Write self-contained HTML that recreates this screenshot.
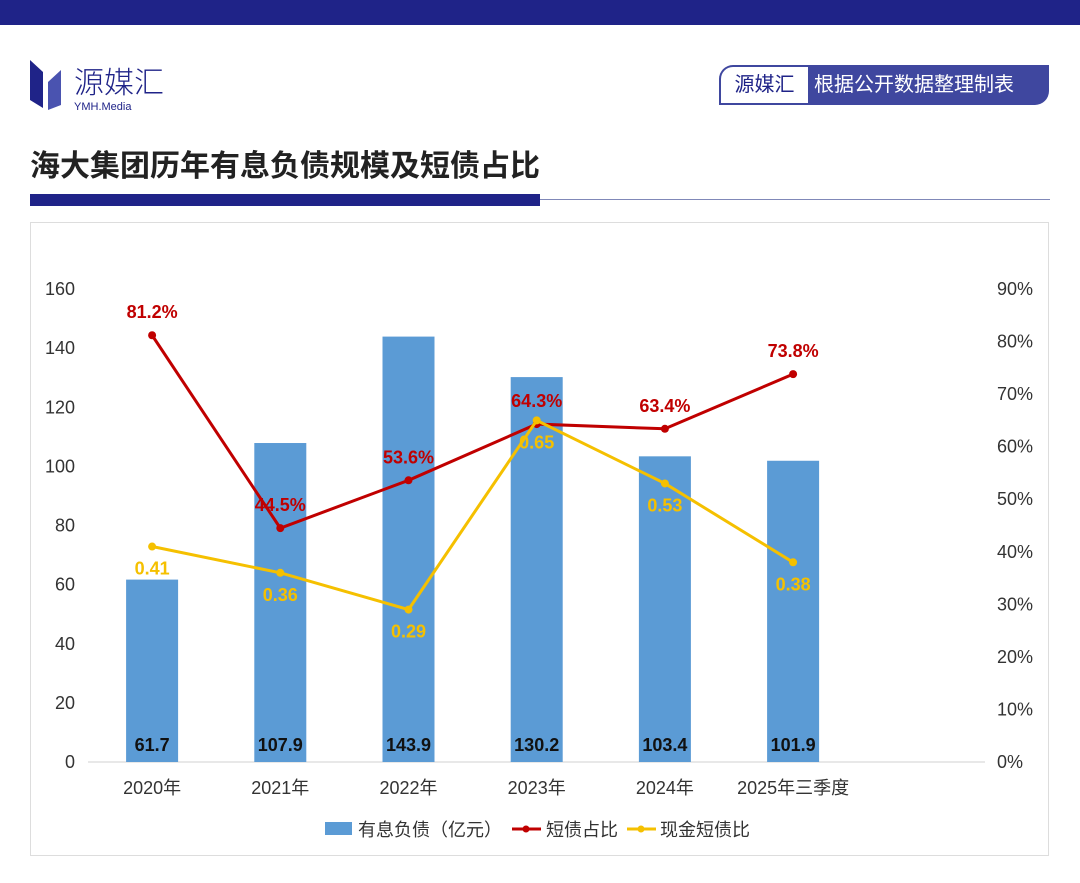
<!DOCTYPE html>
<html><head><meta charset="utf-8">
<style>
body{margin:0;width:1080px;height:883px;background:#fff;font-family:"Liberation Sans","Noto Sans CJK SC",sans-serif;overflow:hidden;position:relative}
.abs{position:absolute}
</style></head>
<body>
<div class="abs" style="left:0;top:0;width:1080px;height:25px;background:#1f2388"></div>
<svg class="abs" style="left:28px;top:60px" width="150" height="55">
<polygon points="2,0 15,12 15,48 2,40" fill="#1f2388"/>
<polygon points="33,10 20,22 20,50 33,45" fill="#4a53b0"/>
<text x="46" y="33" font-size="30" fill="#1f2388" font-family="Noto Sans CJK SC,sans-serif" font-weight="300">源媒汇</text>
<text x="46" y="50" font-size="11" fill="#1f2388" font-family="Liberation Sans,sans-serif">YMH.Media</text>
</svg>
<div class="abs" style="left:719px;top:65px;width:330px;height:40px;background:#3f479f;border-radius:14px 0 14px 0"></div>
<div class="abs" style="left:721px;top:67px;width:87px;height:36px;background:#fff;border-radius:12px 0 0 0;font-size:20px;color:#1f2388;line-height:36px;text-align:center">源媒汇</div>
<div class="abs" style="left:814px;top:67px;font-size:20px;color:#fff;line-height:36px">根据公开数据整理制表</div>
<div class="abs" style="left:30px;top:141px;font-size:30px;font-weight:bold;color:#222;font-family:'Noto Sans CJK SC',sans-serif">海大集团历年有息负债规模及短债占比</div>
<div class="abs" style="left:30px;top:194px;width:510px;height:12px;background:#1f2388"></div>
<div class="abs" style="left:540px;top:199px;width:510px;height:1px;background:#8088b8"></div>
<div class="abs" style="left:30px;top:222px;width:1019px;height:634px;border:1px solid #ddd;box-sizing:border-box"></div>
<svg id="chart" class="abs" style="left:0;top:0" width="1080" height="883"></svg>
<script>
const categories=["2020年","2021年","2022年","2023年","2024年","2025年三季度"];
const debt=[61.7,107.9,143.9,130.2,103.4,101.9];
const shortShare=[81.2,44.5,53.6,64.3,63.4,73.8];
const cashRatio=[0.41,0.36,0.29,0.65,0.53,0.38];
const leftTicks=[0,20,40,60,80,100,120,140,160];
const rightTicks=[0,10,20,30,40,50,60,70,80,90];
const svg=document.getElementById('chart');
const NS="http://www.w3.org/2000/svg";
const x0=88,slot=128.2,yBase=762,yTop=289;
const yL=v=>yBase-(v/160)*(yBase-yTop);
const yR=p=>yBase-(p/90)*(yBase-yTop);
const xc=i=>x0+slot*(i+0.5);
function mk(t,a,txt){const e=document.createElementNS(NS,t);for(const k in a)e.setAttribute(k,a[k]);if(txt!==undefined)e.textContent=txt;svg.appendChild(e);return e;}
const F='Liberation Sans, Noto Sans CJK SC, sans-serif';
let e=mk('line',{x1:x0,x2:985,y1:yBase,y2:yBase,stroke:'#d0d0d0','stroke-width':1});


leftTicks.forEach(v=>{const t=mk('text',{x:75,y:yL(v)+6,'text-anchor':'end','font-size':18,fill:'#333','font-family':F},v);

});
rightTicks.forEach(v=>{const t=mk('text',{x:997,y:yR(v)+6,'font-size':18,fill:'#333','font-family':F},v+'%');

});
categories.forEach((c,i)=>{const t=mk('text',{x:xc(i),y:794,'text-anchor':'middle','font-size':18,fill:'#333','font-family':F},c);

});
debt.forEach((v,i)=>{const b=mk('rect',{x:xc(i)-26,y:yL(v),width:52,height:yBase-yL(v),fill:'#5b9bd5'});


const t=mk('text',{x:xc(i),y:751,'text-anchor':'middle','font-size':18,'font-weight':'bold',fill:'#111','font-family':F},v.toFixed(1));

});
function series(vals,yf,color,name,fmt,dy){
 const l=mk('polyline',{points:vals.map((v,i)=>xc(i)+','+yf(v)).join(' '),fill:'none',stroke:color,'stroke-width':3});
 
 
 vals.forEach((v,i)=>{const c=mk('circle',{cx:xc(i),cy:yf(v),r:4,fill:color});
 
 
 const t=mk('text',{x:xc(i),y:yf(v)+dy,'text-anchor':'middle','font-size':18,'font-weight':'bold',fill:color,'font-family':F},fmt(v));
 
 });
}
series(shortShare,yR,'#c00000','short-share',v=>v.toFixed(1)+'%',-17);
series(cashRatio,v=>yR(v*100),'#f5c000','cash-ratio',v=>v.toFixed(2),28);
e=mk('rect',{x:325,y:822,width:27,height:13,fill:'#5b9bd5'});


e=mk('text',{x:358,y:836,'font-size':18,fill:'#333','font-family':F},'有息负债（亿元）');


e=mk('line',{x1:512,x2:541,y1:829,y2:829,stroke:'#c00000','stroke-width':3});


e=mk('circle',{cx:526,cy:829,r:3.5,fill:'#c00000'});


e=mk('text',{x:546,y:836,'font-size':18,fill:'#333','font-family':F},'短债占比');


e=mk('line',{x1:627,x2:656,y1:829,y2:829,stroke:'#f5c000','stroke-width':3});


e=mk('circle',{cx:641,cy:829,r:3.5,fill:'#f5c000'});


e=mk('text',{x:660,y:836,'font-size':18,fill:'#333','font-family':F},'现金短债比');


</script>
</body></html>
